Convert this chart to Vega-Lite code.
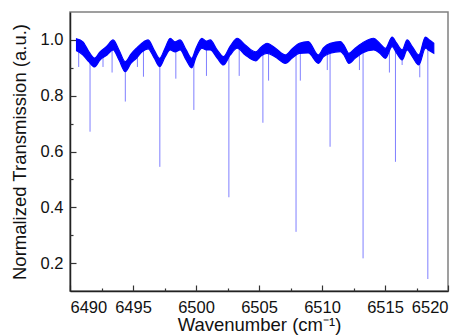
{
  "$schema": "https://vega.github.io/schema/vega-lite/v6.json",
  "width": 378,
  "height": 279,
  "autosize": {"type": "none"},
  "padding": {"left": 70, "top": 12, "right": 20, "bottom": 44},
  "background": "white",
  "config": {
    "view": {"stroke": "#808080", "strokeWidth": 1.5},
    "font": "Liberation Sans",
    "axis": {
      "grid": false,
      "domainColor": "#222222",
      "domainWidth": 1.5,
      "tickColor": "#333333",
      "tickWidth": 1.2,
      "labelFont": "Liberation Sans",
      "labelFontSize": 16.5,
      "labelColor": "#111111",
      "titleFont": "Liberation Sans",
      "titleFontSize": 18.5,
      "titleFontWeight": "normal",
      "titleColor": "#111111"
    }
  },
  "datasets": {
    "band": [
      {"wn": 6490.52, "hi": 1.004, "lo": 0.961},
      {"wn": 6491.03, "hi": 0.993, "lo": 0.946},
      {"wn": 6491.51, "hi": 0.957, "lo": 0.921},
      {"wn": 6491.95, "hi": 0.935, "lo": 0.903},
      {"wn": 6492.38, "hi": 0.957, "lo": 0.928},
      {"wn": 6492.94, "hi": 0.978, "lo": 0.946},
      {"wn": 6493.42, "hi": 1.0, "lo": 0.964},
      {"wn": 6493.89, "hi": 0.964, "lo": 0.928},
      {"wn": 6494.39, "hi": 0.922, "lo": 0.886},
      {"wn": 6494.85, "hi": 0.95, "lo": 0.917},
      {"wn": 6495.27, "hi": 0.97, "lo": 0.934},
      {"wn": 6495.72, "hi": 0.989, "lo": 0.957},
      {"wn": 6496.2, "hi": 1.0, "lo": 0.968},
      {"wn": 6496.68, "hi": 0.964, "lo": 0.935},
      {"wn": 6497.11, "hi": 0.934, "lo": 0.904},
      {"wn": 6497.55, "hi": 0.971, "lo": 0.939},
      {"wn": 6497.95, "hi": 1.006, "lo": 0.964},
      {"wn": 6498.34, "hi": 0.993, "lo": 0.957},
      {"wn": 6498.74, "hi": 1.0, "lo": 0.964},
      {"wn": 6499.22, "hi": 0.964, "lo": 0.928},
      {"wn": 6499.66, "hi": 0.934, "lo": 0.9},
      {"wn": 6500.01, "hi": 0.971, "lo": 0.939},
      {"wn": 6500.47, "hi": 1.006, "lo": 0.97},
      {"wn": 6500.81, "hi": 0.996, "lo": 0.964},
      {"wn": 6501.13, "hi": 1.0, "lo": 0.964},
      {"wn": 6501.68, "hi": 0.964, "lo": 0.935},
      {"wn": 6502.18, "hi": 0.94, "lo": 0.91},
      {"wn": 6502.72, "hi": 0.978, "lo": 0.946},
      {"wn": 6503.27, "hi": 1.006, "lo": 0.97},
      {"wn": 6503.91, "hi": 0.982, "lo": 0.946},
      {"wn": 6504.74, "hi": 0.957, "lo": 0.925},
      {"wn": 6505.18, "hi": 0.975, "lo": 0.943},
      {"wn": 6505.63, "hi": 0.988, "lo": 0.952},
      {"wn": 6506.29, "hi": 0.971, "lo": 0.939},
      {"wn": 6507.09, "hi": 0.946, "lo": 0.916},
      {"wn": 6507.64, "hi": 0.968, "lo": 0.935},
      {"wn": 6508.2, "hi": 0.988, "lo": 0.952},
      {"wn": 6508.91, "hi": 0.994, "lo": 0.953},
      {"wn": 6509.71, "hi": 0.946, "lo": 0.916},
      {"wn": 6510.11, "hi": 0.971, "lo": 0.939},
      {"wn": 6510.66, "hi": 0.988, "lo": 0.952},
      {"wn": 6511.46, "hi": 0.994, "lo": 0.958},
      {"wn": 6511.78, "hi": 0.978, "lo": 0.943},
      {"wn": 6512.13, "hi": 0.952, "lo": 0.916},
      {"wn": 6512.65, "hi": 0.971, "lo": 0.935},
      {"wn": 6513.21, "hi": 0.989, "lo": 0.953},
      {"wn": 6514.1, "hi": 1.006, "lo": 0.964},
      {"wn": 6514.56, "hi": 0.989, "lo": 0.953},
      {"wn": 6515.03, "hi": 0.97, "lo": 0.934},
      {"wn": 6515.57, "hi": 1.01, "lo": 0.976},
      {"wn": 6515.91, "hi": 0.989, "lo": 0.953},
      {"wn": 6516.36, "hi": 0.964, "lo": 0.928},
      {"wn": 6516.76, "hi": 1.0, "lo": 0.964},
      {"wn": 6517.18, "hi": 0.975, "lo": 0.939},
      {"wn": 6517.68, "hi": 0.946, "lo": 0.91},
      {"wn": 6518.21, "hi": 1.01, "lo": 0.97},
      {"wn": 6518.53, "hi": 1.0, "lo": 0.961},
      {"wn": 6518.87, "hi": 0.988, "lo": 0.952}
    ],
    "deep": [
      {"wn": 6491.59, "min": 0.671, "base": 0.94},
      {"wn": 6494.39, "min": 0.779, "base": 0.9},
      {"wn": 6497.13, "min": 0.545, "base": 0.92},
      {"wn": 6499.83, "min": 0.749, "base": 0.92},
      {"wn": 6502.61, "min": 0.436, "base": 0.96},
      {"wn": 6505.31, "min": 0.703, "base": 0.96},
      {"wn": 6507.94, "min": 0.312, "base": 0.95},
      {"wn": 6510.64, "min": 0.617, "base": 0.97},
      {"wn": 6513.26, "min": 0.217, "base": 0.97},
      {"wn": 6515.83, "min": 0.563, "base": 0.97},
      {"wn": 6518.4, "min": 0.143, "base": 0.99}
    ],
    "small": [
      {"wn": 6490.69, "min": 0.903, "base": 0.97},
      {"wn": 6492.62, "min": 0.903, "base": 0.95},
      {"wn": 6493.34, "min": 0.883, "base": 0.97},
      {"wn": 6495.35, "min": 0.903, "base": 0.95},
      {"wn": 6495.83, "min": 0.868, "base": 0.97},
      {"wn": 6498.4, "min": 0.861, "base": 0.97},
      {"wn": 6500.83, "min": 0.871, "base": 0.98},
      {"wn": 6503.43, "min": 0.871, "base": 0.98},
      {"wn": 6505.76, "min": 0.854, "base": 0.97},
      {"wn": 6508.28, "min": 0.854, "base": 0.97},
      {"wn": 6510.42, "min": 0.892, "base": 0.96},
      {"wn": 6512.97, "min": 0.892, "base": 0.96},
      {"wn": 6515.35, "min": 0.883, "base": 0.97},
      {"wn": 6516.36, "min": 0.91, "base": 0.94},
      {"wn": 6517.76, "min": 0.866, "base": 0.93}
    ]
  },
  "resolve": {"axis": {"x": "independent", "y": "independent"}},
  "layer": [
    {
      "data": {"name": "deep"},
      "mark": {"type": "rule", "color": "#0000ff", "opacity": 0.5, "strokeWidth": 1},
      "encoding": {
        "x": {
          "field": "wn",
          "type": "quantitative",
          "scale": {"domain": [6490, 6520], "nice": false, "zero": false},
          "axis": {
            "orient": "bottom",
            "title": "Wavenumber (cm⁻¹)",
            "values": [6490, 6495, 6500, 6505, 6510, 6515, 6520],
            "format": "d",
            "ticks": false,
            "labelPadding": 8,
            "titlePadding": 0
          }
        },
        "y": {
          "field": "min",
          "type": "quantitative",
          "scale": {"domain": [0.1, 1.1], "nice": false, "zero": false},
          "axis": {
            "orient": "left",
            "title": "Normalized Transmission (a.u.)",
            "values": [0.2, 0.4, 0.6, 0.8, 1.0],
            "format": ".1f",
            "ticks": false,
            "labelPadding": 7,
            "titlePadding": 11
          }
        },
        "y2": {"field": "base"}
      }
    },
    {
      "data": {"name": "small"},
      "mark": {"type": "rule", "color": "#0000ff", "opacity": 0.5, "strokeWidth": 1},
      "encoding": {
        "x": {
          "field": "wn",
          "type": "quantitative",
          "axis": {
            "orient": "bottom",
            "title": null,
            "values": [6492.5, 6497.5, 6502.5, 6507.5, 6512.5, 6517.5],
            "labels": false,
            "domain": false,
            "tickSize": 3,
            "offset": -3
          }
        },
        "y": {
          "field": "min",
          "type": "quantitative",
          "axis": {
            "orient": "left",
            "title": null,
            "values": [0.3, 0.5, 0.7, 0.9],
            "labels": false,
            "domain": false,
            "tickSize": 3,
            "offset": -3
          }
        },
        "y2": {"field": "base"}
      }
    },
    {
      "data": {"name": "band"},
      "mark": {"type": "area", "color": "#0000ff", "stroke": "#0000ff", "strokeWidth": 1.2, "opacity": 1, "interpolate": "monotone"},
      "encoding": {
        "x": {
          "field": "wn",
          "type": "quantitative",
          "axis": {
            "orient": "bottom",
            "title": null,
            "values": [6490, 6495, 6500, 6505, 6510, 6515, 6520],
            "labels": false,
            "domain": false,
            "tickSize": 6,
            "offset": -6
          }
        },
        "y": {
          "field": "hi",
          "type": "quantitative",
          "axis": {
            "orient": "left",
            "title": null,
            "values": [0.2, 0.4, 0.6, 0.8, 1.0],
            "labels": false,
            "domain": false,
            "tickSize": 6,
            "offset": -6
          }
        },
        "y2": {"field": "lo"}
      }
    }
  ]
}
